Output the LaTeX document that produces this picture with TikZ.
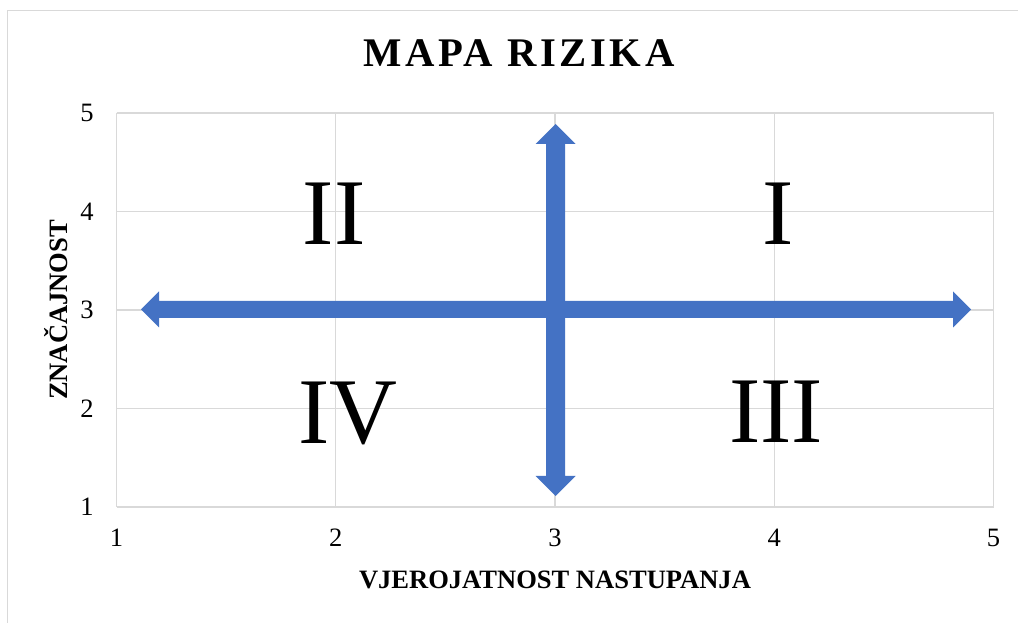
\documentclass[tikz,border=0pt]{standalone}
\usepackage{fontspec}
\setmainfont{Liberation Serif}
\definecolor{gridgray}{HTML}{D9D9D9}
\definecolor{arrowblue}{HTML}{4472C4}
\begin{document}
\begin{tikzpicture}[x=0.75pt,y=-0.75pt,
  gridline/.style={draw=gridgray,line width=1.1pt},
  ticklbl/.style={inner sep=0pt,font=\fontsize{19.9}{24}\selectfont},
  axtitle/.style={inner sep=0pt,anchor=base,font=\fontsize{19.9}{24}\selectfont\bfseries},
  quad/.style={inner sep=0pt,anchor=base,font=\fontsize{70.5}{80}\selectfont},
  bigarrow/.style={fill=arrowblue,draw=none}]
\useasboundingbox (0,0) rectangle (1018,623);
\fill[white] (0,0) rectangle (1018,623);
% outer chart border (runs off the right and bottom edges)
\draw[draw=gridgray,line width=1pt] (7.5,700) -- (7.5,10.5) -- (1100,10.5);
% grid
\foreach \i/\x in {1/116.5,2/335.75,3/555,4/774.25,5/993.5} {
  \draw[gridline] (\x,113) -- (\x,507);
  \node[ticklbl,anchor=north] (xt\i) at (\x,529) {\i};
}
\foreach \i/\y in {1/507,2/408.5,3/310,4/211.5,5/113} {
  \draw[gridline] (116.5,\y) -- (993.5,\y);
  \node[ticklbl,anchor=east] (yt\i) at (94,\y) {\i};
}
% horizontal double arrow
\fill[bigarrow] (141,309.5) -- (159,291.5) -- (159,301) -- (953,301) -- (953,291.5)
  -- (971,309.5) -- (953,327.5) -- (953,318) -- (159,318) -- (159,327.5) -- cycle;
% vertical double arrow
\fill[bigarrow] (555.5,124) -- (575.5,144) -- (565,144) -- (565,476) -- (575.5,476)
  -- (555.5,496) -- (535.5,476) -- (546,476) -- (546,144) -- (535.5,144) -- cycle;
% quadrant labels
\node[quad] (q2) at (334,245) {II};
\node[quad] (q1) at (778,245) {I};
\node[quad] (q4) at (348,444) {IV};
\node[quad] (q3) at (776,443) {III};
% titles
\node[inner sep=0pt,anchor=base,font=\fontsize{30.5}{36}\selectfont\bfseries\addfontfeature{LetterSpace=9}] (title) at (519,67) {MAPA RIZIKA};
\node[axtitle] (xtitle) at (555,588) {VJEROJATNOST NASTUPANJA};
\node[axtitle,rotate=90] (ytitle) at (67,310) {ZNAČAJNOST};
\end{tikzpicture}
\end{document}
